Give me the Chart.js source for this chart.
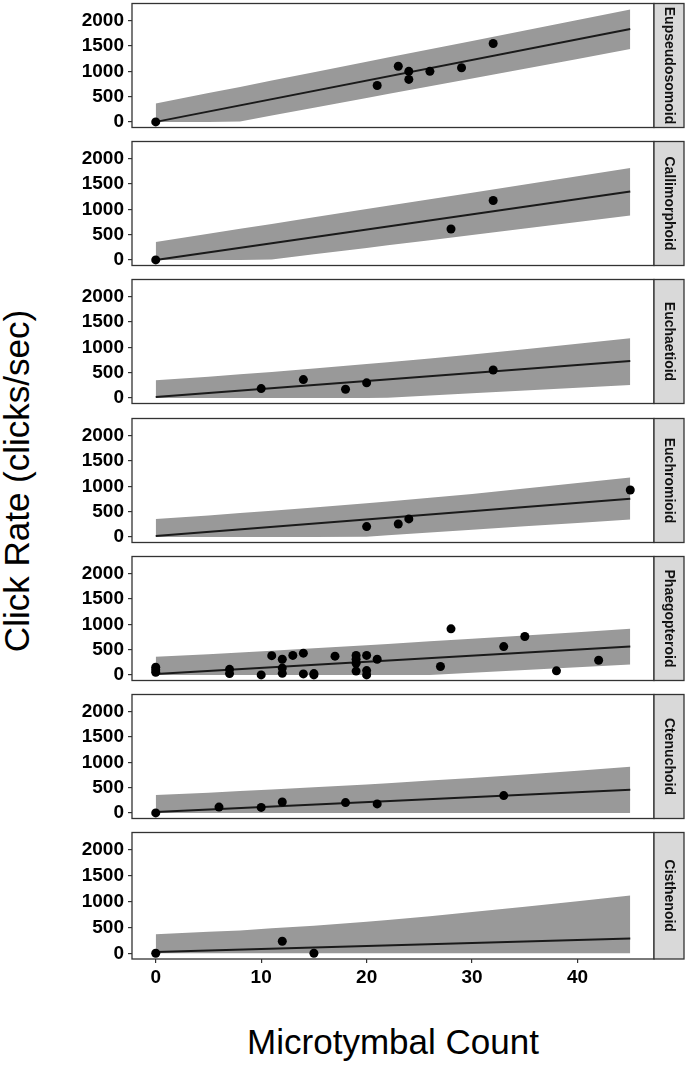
<!DOCTYPE html>
<html>
<head>
<meta charset="utf-8">
<script src="https://cdn.jsdelivr.net/npm/chart.js@4.4.0/dist/chart.umd.min.js"></script>
<style>
  body { margin: 0; background: #fff; width: 685px; height: 1066px; position: relative; overflow: hidden; font-family: 'Liberation Sans', Arial, sans-serif; }
  canvas { position: absolute; left: 0; }
  #ytitle { position: absolute; left: 17px; top: 481px; transform: translate(-50%, -50%) rotate(-90deg); font-size: 35px; white-space: nowrap; color: #000; }
  #xtitle { position: absolute; left: 393px; top: 1042px; transform: translate(-50%, -50%); font-size: 35px; white-space: nowrap; color: #000; }
</style>
</head>
<body>
<div id="ytitle">Click Rate (clicks/sec)</div>
<div id="xtitle">Microtymbal Count</div>
<script>
const panelNames = ['Eupseudosomoid', 'Callimorphoid', 'Euchaetioid', 'Euchromioid', 'Phaegopteroid', 'Ctenuchoid', 'Cisthenoid'];
const bandX = [0, 5, 8, 11, 15, 20, 22, 26, 30, 35, 40, 45];
const fitX = [0, 45];
const yTicks = [0, 500, 1000, 1500, 2000];
const xTicks = [0, 10, 20, 30, 40];

// Eupseudosomoid
const eupX = [0, 21, 23, 24, 24, 26, 29, 32];
const eupY = [0, 720, 1100, 1000, 840, 1000, 1070, 1550];
const eupFit = [0, 1835];
const eupUpper = [362, 570, 692, 816, 982, 1188, 1271, 1436, 1601, 1808, 2014, 2222];
const eupLower = [0, 0, 8, 124, 279, 472, 550, 704, 859, 1053, 1246, 1440];

// Callimorphoid
const calX = [0, 28, 32];
const calY = [0, 610, 1175];
const calFit = [0, 1352];
const calUpper = [356, 518, 615, 712, 842, 1004, 1069, 1198, 1328, 1490, 1652, 1816];
const calLower = [0, 0, 0, 6, 109, 237, 288, 390, 493, 621, 749, 876];

// Euchaetioid
const echX = [10, 14, 18, 20, 32];
const echY = [184, 362, 171, 298, 552];
const echFit = [19, 730];
const echUpper = [350, 420, 465, 512, 580, 670, 706, 780, 860, 960, 1070, 1180];
const echLower = [0, 0, 0, 0, 0, 0, 3, 47, 91, 146, 200, 255];

// Euchromioid
const ecrX = [20, 23, 24, 45];
const ecrY = [203, 254, 356, 927];
const ecrFit = [19, 756];
const ecrUpper = [356, 425, 470, 516, 580, 665, 700, 774, 850, 955, 1065, 1175];
const ecrLower = [0, 0, 0, 0, 0, 5, 32, 86, 140, 208, 275, 343];

// Phaegopteroid
const phaX = [0, 0, 0, 7, 7, 10, 11, 12, 12, 12, 13, 14, 14, 15, 15, 17, 19, 19, 19, 19, 20, 20, 20, 21, 27, 28, 33, 35, 38, 42];
const phaY = [150, 100, 50, 110, 25, 0, 380, 310, 135, 30, 385, 430, 20, 25, 0, 370, 385, 310, 230, 75, 385, 85, 0, 310, 165, 910, 560, 760, 80, 290];
const phaFit = [19, 562];
const phaUpper = [358, 410, 441, 477, 525, 585, 611, 663, 715, 780, 845, 914];
const phaLower = [0, 0, 0, 0, 0, 0, 0, 0, 40, 95, 149, 204];

// Ctenuchoid
const cteX = [0, 6, 10, 12, 18, 21, 33];
const cteY = [0, 114, 108, 215, 203, 177, 342];
const cteFit = [19, 456];
const cteUpper = [354, 400, 431, 463, 505, 563, 588, 638, 690, 760, 835, 912];
const cteLower = [0, 0, 0, 0, 0, 0, 0, 0, 0, 0, 0, 0];

// Cisthenoid
const cisX = [0, 12, 15];
const cisY = [0, 234, 0];
const cisFit = [25, 285];
const cisUpper = [367, 415, 443, 483, 535, 610, 645, 720, 800, 900, 1010, 1120];
const cisLower = [0, 0, 0, 0, 0, 0, 0, 0, 0, 0, 0, 0];

const panels = [
  [eupX, eupY, eupFit, eupUpper, eupLower],
  [calX, calY, calFit, calUpper, calLower],
  [echX, echY, echFit, echUpper, echLower],
  [ecrX, ecrY, ecrFit, ecrUpper, ecrLower],
  [phaX, phaY, phaFit, phaUpper, phaLower],
  [cteX, cteY, cteFit, cteUpper, cteLower],
  [cisX, cisY, cisFit, cisUpper, cisLower]
];

// layout
const PANEL_H = 129;
const PANEL_PITCH = 138.2;
const AXIS_W = 132;
const STRIP_W = 30;
const X_AXIS_H = 50;

const pts = (xs, ys) => xs.map((x, k) => ({ x, y: ys[k] }));

const panelFrame = {
  id: 'panelFrame',
  afterDraw(chart, args, opts) {
    const { ctx, chartArea: a } = chart;
    const h = a.bottom - a.top;
    ctx.save();
    ctx.strokeStyle = '#333';
    ctx.lineWidth = 1.3;
    ctx.strokeRect(a.left, a.top, a.right - a.left, h);
    // facet strip
    ctx.fillStyle = '#d9d9d9';
    ctx.fillRect(a.right, a.top, STRIP_W, h);
    ctx.strokeRect(a.right, a.top, STRIP_W, h);
    ctx.translate(a.right + STRIP_W / 2, a.top + h / 2);
    ctx.rotate(Math.PI / 2);
    ctx.fillStyle = '#111';
    ctx.font = 'bold 14px "Liberation Sans", Arial, sans-serif';
    ctx.textAlign = 'center';
    ctx.textBaseline = 'middle';
    ctx.fillText(opts.label, 0, 0);
    ctx.restore();
  }
};

const tickFont = { family: "'Liberation Sans', Arial, sans-serif", weight: 'bold', size: 19 };

// chart.js reserves room for end labels; the panels are sized by hand
const noPad = s => { s.paddingTop = 0; s.paddingBottom = 0; s.paddingLeft = 0; s.paddingRight = 0; };

panels.forEach(([xs, ys, fit, upper, lower], i) => {
  const last = i === panels.length - 1;
  const top = Math.round(1 + i * PANEL_PITCH);
  const canvas = document.createElement('canvas');
  canvas.width = 685;
  canvas.height = last ? PANEL_H + 2 + X_AXIS_H : PANEL_H + 4;
  canvas.style.top = (top - 2) + 'px';
  document.body.appendChild(canvas);

  new Chart(canvas, {
    type: 'line',
    data: {
      datasets: [
        { data: pts(xs, ys), showLine: false, pointRadius: 4.5, pointBackgroundColor: '#000', pointBorderWidth: 0, order: 0 },
        { data: pts(fitX, fit), borderColor: '#1a1a1a', borderWidth: 2, pointRadius: 0, fill: false, order: 1 },
        { data: pts(bandX, upper), borderColor: 'transparent', borderWidth: 0, pointRadius: 0, backgroundColor: '#999999', fill: '+1', order: 2 },
        { data: pts(bandX, lower), borderColor: 'transparent', borderWidth: 0, pointRadius: 0, fill: false, order: 3 }
      ]
    },
    options: {
      responsive: false,
      animation: false,
      devicePixelRatio: 1,
      events: [],
      layout: { padding: { top: 2, bottom: last ? 0 : 2, left: 0, right: 685 - AXIS_W - 522 } },
      plugins: {
        legend: { display: false },
        tooltip: { enabled: false },
        panelFrame: { label: panelNames[i] }
      },
      scales: {
        x: {
          type: 'linear',
          min: -2.25,
          max: 47.25,
          display: last,
          afterBuildTicks: s => { s.ticks = xTicks.map(v => ({ value: v })); },
          afterFit: s => { s.height = last ? X_AXIS_H : 0; noPad(s); },
          grid: { drawOnChartArea: false, drawTicks: true, tickLength: 4, color: '#333', lineWidth: 1.2 },
          border: { display: false },
          ticks: { autoSkip: false, maxRotation: 0, padding: 3, color: '#000', font: tickFont, callback: v => String(v) }
        },
        y: {
          type: 'linear',
          min: -111,
          max: 2341,
          afterBuildTicks: s => { s.ticks = yTicks.map(v => ({ value: v })); },
          afterFit: s => { s.width = AXIS_W; noPad(s); },
          grid: { drawOnChartArea: false, drawTicks: true, tickLength: 4, color: '#333', lineWidth: 1.2 },
          border: { display: false },
          ticks: { autoSkip: false, padding: 4, color: '#000', font: tickFont, callback: v => String(v) }
        }
      }
    },
    plugins: [panelFrame]
  });
});
</script>
</body>
</html>
